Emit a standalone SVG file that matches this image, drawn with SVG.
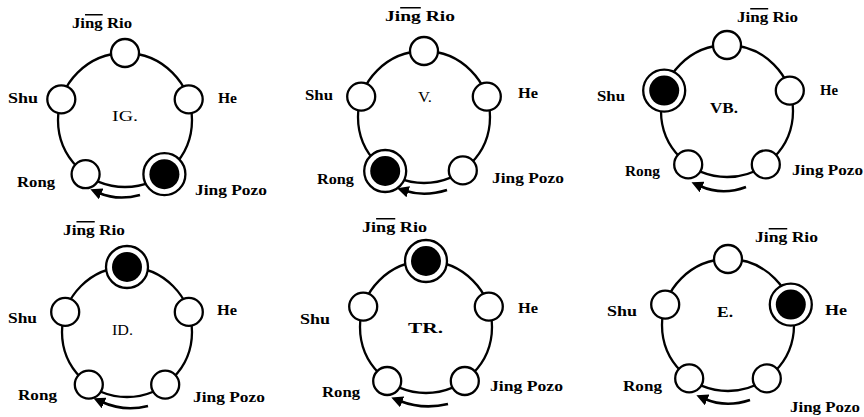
<svg xmlns="http://www.w3.org/2000/svg" width="864" height="417" viewBox="0 0 864 417">
<defs>
<marker id="ah" viewBox="0 0 10 10" refX="2" refY="5" markerWidth="4.5" markerHeight="4.5" orient="auto-start-reverse" markerUnits="strokeWidth">
<path d="M0,0 L10,5 L0,10 Z" fill="#000"/>
</marker>
</defs>
<style>
.ring{fill:none;stroke:#000;stroke-width:2.3}
.pt{fill:#fff;stroke:#000;stroke-width:2.3}
.big{fill:#fff;stroke:#000;stroke-width:2.3}
.dot{fill:#000}
.arr{fill:none;stroke:#000;stroke-width:2.6;marker-start:url(#ah)}
.lb{font-family:"Liberation Serif","DejaVu Serif",serif;font-weight:bold;font-size:15px;fill:#000}
.ct{font-family:"Liberation Serif","DejaVu Serif",serif;font-size:14px;fill:#000}
.ctb{font-family:"Liberation Serif","DejaVu Serif",serif;font-weight:bold;font-size:14px;fill:#000}
.ol{text-decoration:overline}
</style>
<rect width="864" height="417" fill="#fff"/>
<g id="connectors">
<circle class="ring" cx="125" cy="120" r="67"/>
<circle class="ring" cx="424" cy="117" r="66"/>
<circle class="ring" cx="727" cy="111" r="66"/>
<circle class="ring" cx="127" cy="332" r="65"/>
<circle class="ring" cx="426" cy="327" r="66"/>
<circle class="ring" cx="728" cy="325" r="66"/>
<path class="arr" d="M99,193 Q118,201 140,195"/>
<path class="arr" d="M406,191 Q425,197 447,190"/>
<path class="arr" d="M700,186 Q722,196 746,187"/>
<path class="arr" d="M102,402 Q124,412 148,406"/>
<path class="arr" d="M400,401 Q423,410 448,404"/>
<path class="arr" d="M705,399 Q726,408 750,400"/>
</g>
<g id="panel-IG">
<g id="ig-jingrio"><circle class="pt" cx="125" cy="53" r="14"/><text class="lb" x="72" y="28" textLength="60" lengthAdjust="spacingAndGlyphs">Ji<tspan class="ol">ng</tspan> Rio</text></g>
<g id="ig-he"><circle class="pt" cx="188.7" cy="99.3" r="14"/><text class="lb" x="218" y="103" textLength="19" lengthAdjust="spacingAndGlyphs">He</text></g>
<g id="ig-jingpozo"><circle class="big" cx="164.4" cy="174.2" r="21"/><circle class="dot" cx="164.4" cy="174.2" r="15"/><text class="lb" x="195" y="195" textLength="72" lengthAdjust="spacingAndGlyphs">Jing Pozo</text></g>
<g id="ig-rong"><circle class="pt" cx="85.6" cy="174.2" r="14"/><text class="lb" x="17" y="187" textLength="38" lengthAdjust="spacingAndGlyphs">Rong</text></g>
<g id="ig-shu"><circle class="pt" cx="61.3" cy="99.3" r="14"/><text class="lb" x="8" y="103" textLength="30" lengthAdjust="spacingAndGlyphs">Shu</text></g>
<text class="ct" x="112" y="121" textLength="26" lengthAdjust="spacingAndGlyphs">IG.</text>
</g>
<g id="panel-V">
<g id="v-jingrio"><circle class="pt" cx="424" cy="51" r="14"/><text class="lb" x="385" y="21" textLength="70" lengthAdjust="spacingAndGlyphs">Ji<tspan class="ol">ng</tspan> Rio</text></g>
<g id="v-he"><circle class="pt" cx="486.8" cy="96.6" r="14"/><text class="lb" x="518" y="98" textLength="20" lengthAdjust="spacingAndGlyphs">He</text></g>
<g id="v-jingpozo"><circle class="pt" cx="462.8" cy="170.4" r="14"/><text class="lb" x="492" y="183" textLength="72" lengthAdjust="spacingAndGlyphs">Jing Pozo</text></g>
<g id="v-rong"><circle class="big" cx="385.2" cy="171" r="21"/><circle class="dot" cx="385.2" cy="171" r="15"/><text class="lb" x="317" y="184" textLength="37" lengthAdjust="spacingAndGlyphs">Rong</text></g>
<g id="v-shu"><circle class="pt" cx="361.2" cy="96.6" r="14"/><text class="lb" x="305" y="100" textLength="28" lengthAdjust="spacingAndGlyphs">Shu</text></g>
<text class="ct" x="418" y="102" textLength="14" lengthAdjust="spacingAndGlyphs">V.</text>
</g>
<g id="panel-VB">
<g id="vb-jingrio"><circle class="pt" cx="727" cy="45" r="14"/><text class="lb" x="737" y="22" textLength="61" lengthAdjust="spacingAndGlyphs">Ji<tspan class="ol">ng</tspan> Rio</text></g>
<g id="vb-he"><circle class="pt" cx="789.8" cy="90.6" r="14"/><text class="lb" x="820" y="95" textLength="18" lengthAdjust="spacingAndGlyphs">He</text></g>
<g id="vb-jingpozo"><circle class="pt" cx="765.8" cy="164.4" r="14"/><text class="lb" x="792" y="175" textLength="71" lengthAdjust="spacingAndGlyphs">Jing Pozo</text></g>
<g id="vb-rong"><circle class="pt" cx="688.2" cy="164.4" r="14"/><text class="lb" x="625" y="176" textLength="35" lengthAdjust="spacingAndGlyphs">Rong</text></g>
<g id="vb-shu"><circle class="big" cx="664.2" cy="90.6" r="21"/><circle class="dot" cx="664.2" cy="90.6" r="15"/><text class="lb" x="597" y="101" textLength="28" lengthAdjust="spacingAndGlyphs">Shu</text></g>
<text class="ctb" x="710" y="113" textLength="28" lengthAdjust="spacingAndGlyphs">VB.</text>
</g>
<g id="panel-ID">
<g id="id-jingrio"><circle class="big" cx="127" cy="267" r="21"/><circle class="dot" cx="127" cy="267" r="15"/><text class="lb" x="63" y="235" textLength="62" lengthAdjust="spacingAndGlyphs">Ji<tspan class="ol">ng</tspan> Rio</text></g>
<g id="id-he"><circle class="pt" cx="188.8" cy="311.9" r="14"/><text class="lb" x="217" y="315" textLength="20" lengthAdjust="spacingAndGlyphs">He</text></g>
<g id="id-jingpozo"><circle class="pt" cx="165.2" cy="384.6" r="14"/><text class="lb" x="193" y="402" textLength="72" lengthAdjust="spacingAndGlyphs">Jing Pozo</text></g>
<g id="id-rong"><circle class="pt" cx="88.8" cy="384.6" r="14"/><text class="lb" x="18" y="400" textLength="39" lengthAdjust="spacingAndGlyphs">Rong</text></g>
<g id="id-shu"><circle class="pt" cx="65.2" cy="311.9" r="14"/><text class="lb" x="8" y="323" textLength="29" lengthAdjust="spacingAndGlyphs">Shu</text></g>
<text class="ct" x="112" y="335" textLength="21" lengthAdjust="spacingAndGlyphs">ID.</text>
</g>
<g id="panel-TR">
<g id="tr-jingrio"><circle class="big" cx="426" cy="261" r="21"/><circle class="dot" cx="426" cy="261" r="15"/><text class="lb" x="362" y="232" textLength="65" lengthAdjust="spacingAndGlyphs">Ji<tspan class="ol">ng</tspan> Rio</text></g>
<g id="tr-he"><circle class="pt" cx="488.8" cy="306.6" r="14"/><text class="lb" x="518" y="313" textLength="20" lengthAdjust="spacingAndGlyphs">He</text></g>
<g id="tr-jingpozo"><circle class="pt" cx="464.8" cy="381" r="14"/><text class="lb" x="490" y="391" textLength="73" lengthAdjust="spacingAndGlyphs">Jing Pozo</text></g>
<g id="tr-rong"><circle class="pt" cx="387.2" cy="381" r="14"/><text class="lb" x="322" y="397" textLength="38" lengthAdjust="spacingAndGlyphs">Rong</text></g>
<g id="tr-shu"><circle class="pt" cx="363.2" cy="306.6" r="14"/><text class="lb" x="300" y="324" textLength="30" lengthAdjust="spacingAndGlyphs">Shu</text></g>
<text class="ctb" x="408" y="333" textLength="35" lengthAdjust="spacingAndGlyphs">TR.</text>
</g>
<g id="panel-E">
<g id="e-jingrio"><circle class="pt" cx="728" cy="259" r="14"/><text class="lb" x="755" y="242" textLength="63" lengthAdjust="spacingAndGlyphs">Ji<tspan class="ol">ng</tspan> Rio</text></g>
<g id="e-he"><circle class="big" cx="790.8" cy="304.6" r="21"/><circle class="dot" cx="790.8" cy="304.6" r="15"/><text class="lb" x="825" y="315" textLength="22" lengthAdjust="spacingAndGlyphs">He</text></g>
<g id="e-jingpozo"><circle class="pt" cx="766.8" cy="378.4" r="14"/><text class="lb" x="790" y="412" textLength="70" lengthAdjust="spacingAndGlyphs">Jing Pozo</text></g>
<g id="e-rong"><circle class="pt" cx="689.2" cy="378.4" r="14"/><text class="lb" x="623" y="391" textLength="39" lengthAdjust="spacingAndGlyphs">Rong</text></g>
<g id="e-shu"><circle class="pt" cx="665.2" cy="304.6" r="14"/><text class="lb" x="607" y="316" textLength="30" lengthAdjust="spacingAndGlyphs">Shu</text></g>
<text class="ctb" x="717" y="317" textLength="16" lengthAdjust="spacingAndGlyphs">E.</text>
</g>
</svg>
